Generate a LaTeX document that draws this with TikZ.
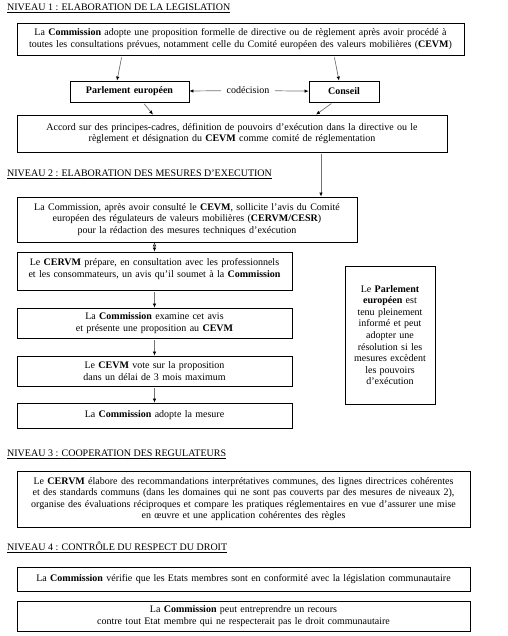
\documentclass[tikz,border=0pt]{standalone}
\usepackage{fontspec}
\setmainfont{Liberation Serif}
\usetikzlibrary{positioning,arrows.meta}

\begin{document}
\begin{tikzpicture}[x=1pt, y=-1pt, font=\fontsize{10}{11.6}\selectfont,
    box/.style={draw, line width=0.8pt, inner xsep=3pt, inner ysep=0pt, align=center},
    titre/.style={anchor=west, inner sep=0pt},
    fleche/.style={draw=black!55, line width=0.7pt, shorten <=2pt, -{Latex[length=4pt,width=3.5pt,color=black]}}]
    \useasboundingbox (0,0) rectangle (507,636);

    % niveau 1
    \node[titre] (titre1) at (7,8) {\underline{NIVEAU 1 : ELABORATION DE LA LEGISLATION}};
    \node[box, text width=441pt, minimum height=32pt] (commission) at (240.5,39)
        {La \textbf{Commission} adopte une proposition formelle de directive ou de règlement après avoir procédé à\\
         toutes les consultations prévues, notamment celle du Comité européen des valeurs mobilières (\textbf{CEVM})};
    \node[box, text width=113pt, minimum height=21pt] (parl) at (129.5,91.5) {\textbf{Parlement européen}};
    \node[box, text width=64pt, minimum height=21pt] (conseil) at (344,91.5) {\textbf{Conseil}};
    \node (codec) at (248,90.5) {codécision};
    \node[box, text width=424pt, minimum height=37pt] (accord) at (232,133.5)
        {Accord sur des principes-cadres, définition de pouvoirs d’exécution dans la directive ou le\\
         règlement et désignation du \textbf{CEVM} comme comité de réglementation};

    % niveau 2
    \node[titre] (titre2) at (7,174) {\underline{NIVEAU 2 : ELABORATION DES MESURES D’EXECUTION}};
    \node[box, text width=334pt, minimum height=45pt] (consult) at (187,219.5)
        {La Commission, après avoir consulté le \textbf{CEVM}, sollicite l’avis du Comité\\
         européen des régulateurs de valeurs mobilières (\textbf{CERVM/CESR})\\
         pour la rédaction des mesures techniques d’exécution};
    \node[box, text width=269pt, minimum height=38pt] (prepare) at (154.5,271)
        {\parbox[c][25pt][t]{269pt}{\centering Le \textbf{CERVM} prépare, en consultation avec les professionnels\\
         et les consommateurs, un avis qu’il soumet à la \textbf{Commission}}};
    \node[box, text width=269pt, minimum height=30pt] (examine) at (154.5,323)
        {La \textbf{Commission} examine cet avis\\ et présente une proposition au \textbf{CEVM}};
    \node[box, text width=269pt, minimum height=30pt] (vote) at (154.5,371)
        {Le \textbf{CEVM} vote sur la proposition\\ dans un délai de 3 mois maximum};
    \node[box, text width=269pt, minimum height=25pt] (adopte) at (154.5,415.5)
        {La \textbf{Commission} adopte la mesure};
    \node[box, text width=84pt, minimum height=138pt] (informe) at (390,335)
        {Le \textbf{Parlement}\\ \textbf{européen} est\\ tenu pleinement\\ informé et peut\\ adopter une\\
         résolution si les\\ mesures excèdent\\ les pouvoirs\\ d’exécution};

    % niveau 3
    \node[titre] (titre3) at (7,454) {\underline{NIVEAU 3 : COOPERATION DES REGULATEURS}};
    \node[box, text width=447pt, minimum height=56pt] (cooper) at (243.5,499)
        {Le \textbf{CERVM} élabore des recommandations interprétatives communes, des lignes directrices cohérentes\\
         et des standards communs (dans les domaines qui ne sont pas couverts par des mesures de niveaux 2),\\
         organise des évaluations réciproques et compare les pratiques réglementaires en vue d’assurer une mise\\
         en œuvre et une application cohérentes des règles};

    % niveau 4
    \node[titre] (titre4) at (7,547) {\underline{NIVEAU 4 : CONTRÔLE DU RESPECT DU DROIT}};
    \node[box, text width=447pt, minimum height=24pt] (verifie) at (243.5,579)
        {La \textbf{Commission} vérifie que les Etats membres sont en conformité avec la législation communautaire};
    \node[box, text width=447pt, minimum height=30pt] (recours) at (243.5,616)
        {La \textbf{Commission} peut entreprendre un recours\\
         contre tout Etat membre qui ne respecterait pas le droit communautaire};

    \path[fleche]
    ([xshift=-118.5pt]commission.south) edge ([xshift=-12.5pt]parl.north)
    ([xshift=93.5pt]commission.south) edge ([xshift=-5pt]conseil.north)
    (codec) edge (parl)
    (codec) edge (conseil)
    ([xshift=13.5pt]parl.south) edge ([xshift=-79pt]accord.north)
    ([xshift=-11pt]conseil.south) edge ([xshift=84pt]accord.north)
    ([xshift=89pt]accord.south) edge ([xshift=134pt]consult.north)
    (consult.south -| prepare.north) edge (prepare.north)
    (prepare) edge (examine)
    (examine) edge (vote)
    (vote) edge (adopte);
\end{tikzpicture}
\end{document}
